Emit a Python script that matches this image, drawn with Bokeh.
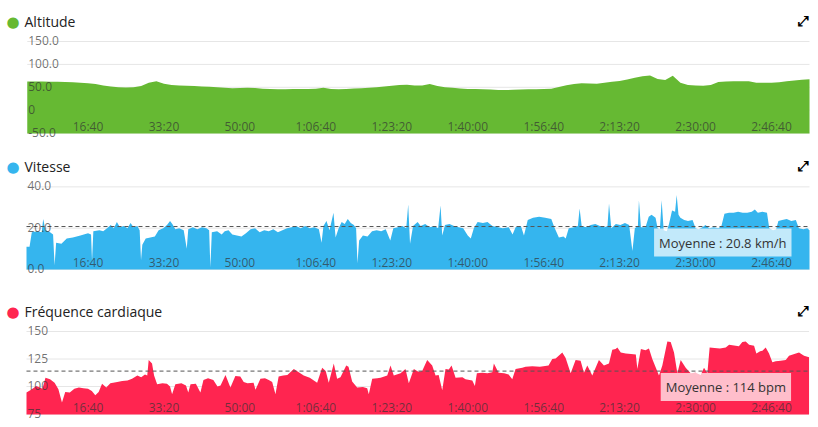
from bokeh.plotting import figure
from bokeh.models import ColumnDataSource, Label
from bokeh.layouts import column
from bokeh.embed import file_html
from bokeh.resources import INLINE
from bokeh.core.properties import value

# ---------------- data ----------------
alt_t = list(range(200, 10600, 100))
alt_v = [62.5, 62.5, 62.5, 62, 62, 61.5, 61, 60, 59, 57,
         54, 51.5, 50, 49.5, 50, 53, 60, 63, 58, 55,
         54, 53.5, 53, 52, 51, 50, 49, 48, 48.5, 49,
         48.5, 47, 46, 45.5, 45.5, 46, 46, 46, 47, 49,
         46.5, 45.5, 46, 47.5, 48, 49, 50, 52, 53.5, 55,
         55.5, 54, 54, 57, 53, 50, 49, 47.5, 46.5, 46,
         45.5, 45, 44, 44, 44.5, 45, 45.5, 45.5, 46, 47,
         50.5, 54.5, 57, 59, 58.5, 58, 60, 62, 64, 67,
         71, 74, 75.5, 68, 66, 75, 60, 55, 54, 53.5,
         55, 61.5, 62.5, 63, 63, 63, 60, 60, 60, 61,
         63, 65, 66.5, 67.5]

spd_t = [190, 230, 260, 330, 390, 410, 440, 500, 540, 560, 580, 650, 720, 800, 900,
         1000, 1040, 1053, 1070, 1150, 1200, 1250, 1300, 1340, 1380, 1420, 1470, 1520,
         1560, 1600, 1650, 1680, 1698, 1715, 1760, 1820, 1880, 1930, 1990, 2040, 2080,
         2110, 2150, 2200, 2260, 2300, 2320, 2380, 2440, 2500, 2560, 2595, 2611, 2630,
         2700, 2760, 2800, 2850, 2900, 2960, 3020, 3080, 3140, 3200, 3260, 3320, 3380,
         3440, 3500, 3560, 3620, 3680, 3740, 3800, 3860, 3920, 3980, 4040, 4075, 4100,
         4140, 4180, 4232, 4260, 4300, 4340, 4380, 4420, 4460, 4500, 4530, 4548, 4570,
         4620, 4680, 4740, 4800, 4860, 4920, 4980, 5020, 5080, 5140, 5190, 5216, 5240,
         5280, 5340, 5380, 5440, 5500, 5560, 5610, 5642, 5664, 5700, 5760, 5820, 5880,
         5940, 6000, 6040, 6080, 6130, 6200, 6260, 6325, 6400, 6460, 6540, 6590, 6630,
         6700, 6740, 6790, 6860, 6940, 7020, 7100, 7140, 7200, 7260, 7290, 7330, 7400,
         7450, 7473, 7500, 7560, 7620, 7680, 7740, 7800, 7840, 7860, 7890, 7950, 8010,
         8070, 8125, 8168, 8200, 8240, 8254, 8280, 8340, 8383, 8420, 8473, 8500, 8530,
         8553, 8580, 8620, 8650, 8690, 8730, 8751, 8775, 8800, 8850, 8900, 8960, 9000,
         9040, 9090, 9130, 9180, 9240, 9300, 9340, 9380, 9440, 9500, 9560, 9620, 9680,
         9740, 9780, 9820, 9880, 9940, 9970, 10020, 10060, 10090, 10140, 10200, 10260,
         10320, 10360, 10420, 10470, 10500]
spd_v = [11, 11, 18, 18.5, 18, 24.5, 19, 18, 17, 2, 13, 12.5, 15, 15.5, 16.5,
         17.5, 17, 4, 18.5, 19, 18.5, 20, 21.5, 20, 23, 20.5, 21, 20,
         22.5, 20.5, 21, 19, 4.5, 12, 15, 15.5, 16, 19, 20, 21.5, 23.5,
         22, 19.5, 20, 19, 10, 19.5, 20.5, 19.5, 20.5, 20, 19, 1, 18,
         18.5, 17, 18.5, 19, 17, 16.5, 16, 17.5, 19.5, 20, 18, 19, 18.5,
         19.5, 18, 19, 20, 20.5, 21, 20, 21, 20, 20.5, 19.5, 13, 21,
         23.5, 19, 27.5, 15.5, 20, 23, 22, 24.5, 22.5, 21.5, 20, 3, 14,
         16.5, 16, 18.5, 19, 18.5, 19.5, 14, 20, 20.5, 21, 20, 31.5, 12.5,
         21, 23, 21, 22, 20.5, 21, 20, 31, 16.5, 21.5, 22, 21, 20.5,
         20, 16.5, 15, 20, 23, 22.5, 23, 21, 20.5, 20, 20.5, 17, 20.5,
         21, 16.5, 24, 25, 25.5, 25, 24.5, 20.5, 15.5, 16, 15, 20, 20.5,
         21, 29.5, 21, 20.5, 21.5, 22, 21, 20.5, 21, 32, 20, 22, 21.5,
         22.5, 21.5, 9, 20, 21, 33.5, 20.5, 20.5, 25.5, 26.5, 25, 20, 19.5,
         33.5, 19, 18.5, 22, 28.5, 28, 36, 26.5, 25, 24, 23.5, 24, 20,
         19.5, 20.5, 21.5, 20, 20.5, 20, 21, 27, 27.5, 27.5, 28, 27.5, 27.5,
         28, 29, 27.5, 28, 27.5, 20, 19, 19.5, 23.5, 24, 24.5, 23.5,
         24, 20, 19.5, 20, 19]

hr_t = [190, 250, 320, 400, 440, 500, 560, 610, 657, 700, 760, 820, 880, 940, 1000,
        1050, 1096, 1140, 1185, 1240, 1294, 1385, 1450, 1520, 1580, 1650, 1700, 1750,
        1780, 1799, 1843, 1870, 1910, 1980, 2040, 2080, 2107, 2150, 2230, 2290, 2320,
        2350, 2420, 2480, 2520, 2580, 2650, 2705, 2745, 2810, 2875, 2940, 3005, 3050,
        3100, 3180, 3205, 3270, 3330, 3380, 3425, 3468, 3510, 3570, 3625, 3710, 3775,
        3840, 3920, 4017, 4083, 4130, 4170, 4236, 4280, 4324, 4400, 4430, 4478, 4544,
        4620, 4676, 4697, 4742, 4808, 4852, 4940, 4983, 5026, 5115, 5180, 5224, 5290,
        5350, 5400, 5466, 5532, 5576, 5617, 5664, 5707, 5750, 5787, 5840, 5930, 5970,
        6060, 6094, 6120, 6191, 6260, 6323, 6344, 6406, 6480, 6538, 6586, 6630, 6718,
        6762, 6850, 6950, 7064, 7113, 7157, 7245, 7289, 7355, 7420, 7486, 7530, 7574,
        7640, 7727, 7793, 7859, 7903, 7947, 7970, 8015, 8080, 8150, 8213, 8233, 8280,
        8340, 8386, 8430, 8518, 8562, 8628, 8672, 8716, 8760, 8804, 8870, 8935, 9001,
        9067, 9111, 9155, 9185, 9250, 9320, 9397, 9441, 9528, 9570, 9616, 9660, 9704,
        9770, 9800, 9850, 9880, 9923, 9967, 10011, 10055, 10120, 10187, 10230, 10300,
        10362, 10428, 10494]
hr_v = [94.5, 97, 100.5, 98, 108, 106.5, 103.5, 97.5, 85.5, 95, 94.5, 98, 99, 98.5, 98,
        96, 92, 95, 102.5, 99, 103, 104, 105, 105.5, 107, 110, 108.5, 111,
        110, 124, 121, 110, 102, 103, 102.5, 100, 93, 102, 103, 101, 94.5,
        102, 102.5, 94.5, 106, 107.5, 106, 100, 101, 110.5, 99, 109.5, 109, 104,
        103, 103.5, 97, 107, 107.5, 106, 104, 93, 109, 110, 110.5, 116, 113,
        110, 108, 103.5, 117, 114, 103.5, 121, 107, 108.5, 119, 118, 104.5, 99,
        99.5, 98.5, 93, 107, 107.5, 108, 110, 119, 110, 112, 116, 103, 116,
        113.5, 114, 124, 119, 110, 110.5, 96.5, 116, 115.5, 119, 108, 108.5, 106.5,
        105.5, 100.5, 112, 112.5, 112, 113, 121, 112.5, 112, 111, 106.5, 116, 117,
        118, 118.5, 118, 119, 125, 125.5, 131, 126, 112, 124, 123.5, 112.5, 119,
        110, 124, 119, 121, 133.5, 134, 135.5, 131, 130, 129.5, 129, 116, 134,
        133, 134.5, 125, 110, 119, 141, 140.5, 131, 112, 124, 117, 112, 112.5,
        110.5, 117, 112, 135.5, 135, 134.5, 135.5, 138, 137, 136.5, 140.5, 141, 138,
        137, 130, 132, 132.5, 135.5, 130, 122, 123, 123.5, 124, 128, 129.5,
        131, 128, 126.5]

x_ticks = [1000, 2000, 3000, 4000, 5000, 6000, 7000, 8000, 9000, 10000]
x_labels = ["16:40", "33:20", "50:00", "1:06:40", "1:23:20", "1:40:00",
            "1:56:40", "2:13:20", "2:30:00", "2:46:40"]

alt_ticks = [-50, 0, 50, 100, 150]
alt_labels = ["-50.0", "0", "50.0", "100.0", "150.0"]
spd_ticks = [0, 20, 40]
spd_labels = ["0.0", "20.0", "40.0"]
hr_ticks = [75, 100, 125, 150]
hr_labels = ["75", "100", "125", "150"]

spd_mean = 20.8
hr_mean = 114

# ---------------- layout ----------------
W = 810
X_RANGE = (-152.3, 10513)
FONT = "Open Sans"
LABEL_COLOR = "#333333"


def panel(title, color, t, v, ticks, labels, yr, base, height, title_y,
          mean=None, mean_text=None):
    p = figure(width=W, height=height, x_range=X_RANGE, y_range=yr,
               output_backend="svg", toolbar_location=None, tools="",
               x_axis_location=None, y_axis_location=None, min_border=0)
    p.outline_line_color = None
    p.grid.visible = False
    t0, t1 = t[0], t[-1]

    # horizontal grid lines
    p.segment(x0=[t0] * len(ticks), x1=[t1] * len(ticks), y0=ticks, y1=ticks,
              line_color="#e6e6e6", line_width=1)
    # area
    p.varea(x=t, y1=[base] * len(t), y2=v, fill_color=color)

    if mean is not None:
        p.line(x=[t0, t1], y=[mean, mean], line_color="#555555",
               line_width=1, line_dash="4 3")

    # y tick labels (inside, left)
    ysrc = ColumnDataSource(dict(x=[t0] * len(ticks), y=ticks, text=labels))
    p.text(x="x", y="y", text="text", source=ysrc, x_offset=1, y_offset=-1,
           text_font=value(FONT), text_font_size="12px",
           text_color=LABEL_COLOR, text_alpha=0.7,
           text_align="left", text_baseline="middle")
    # x tick labels (inside, bottom)
    xsrc = ColumnDataSource(dict(x=x_ticks, y=[base] * len(x_ticks), text=x_labels))
    p.text(x="x", y="y", text="text", source=xsrc, y_offset=-7,
           text_font=value(FONT), text_font_size="12px",
           text_color=LABEL_COLOR, text_alpha=0.7,
           text_align="center", text_baseline="middle")

    if mean is not None:
        p.add_layout(Label(x=t1, y=mean, text=mean_text, text_align="right",
                           text_baseline="middle", x_offset=-18, y_offset=-16,
                           text_font=FONT, text_font_size="13px",
                           text_color="#333333", background_fill_color="white",
                           background_fill_alpha=0.7, padding=5))

    # title with dot and expand icon
    p.add_layout(Label(x=12.5, y=title_y, x_units="screen", y_units="screen",
                       text="●", text_align="center", text_baseline="middle",
                       text_font="DejaVu Sans", text_font_size="15px",
                       text_color=color))
    p.add_layout(Label(x=24, y=title_y, x_units="screen", y_units="screen",
                       text=title, text_align="left", text_baseline="middle",
                       text_font=FONT, text_font_size="14px",
                       text_color="#222222"))
    p.add_layout(Label(x=803, y=title_y + 1, x_units="screen", y_units="screen",
                       text="⤢", text_align="center", text_baseline="middle",
                       text_font="DejaVu Sans", text_font_size="14px",
                       text_font_style="bold", text_color="#000000"))
    return p


p1 = panel("Altitude", "#66b933", alt_t, alt_v, alt_ticks, alt_labels,
           (-66.3, 239.7), -51, 140, 119)
p2 = panel("Vitesse", "#35b5ee", spd_t, spd_v, spd_ticks, spd_labels,
           (-3.39, 62.44), 0, 136, 110, spd_mean, "Moyenne : 20.8 km/h")
p3 = panel("Fréquence cardiaque", "#ff2550", hr_t, hr_v, hr_ticks, hr_labels,
           (68.19, 200.0), 74.55, 145, 110, hr_mean, "Moyenne : 114 bpm")

layout = column(p1, p2, p3, spacing=0)
open("out.html", "w").write(file_html(layout, INLINE))
